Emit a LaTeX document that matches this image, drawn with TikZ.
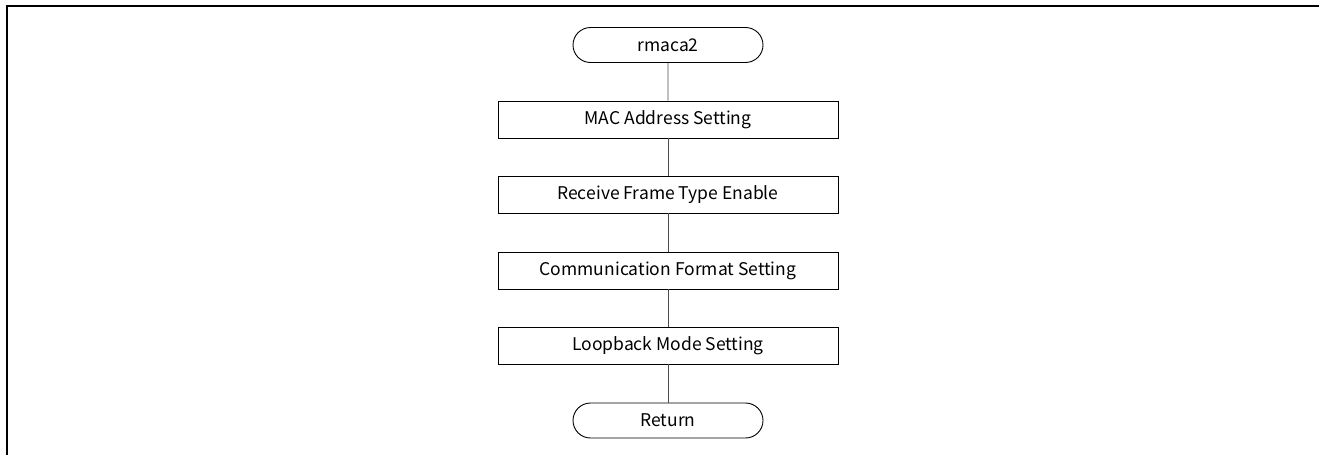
\documentclass[tikz,border=0pt]{standalone}
\usepackage{fontspec}
\setmainfont{Noto Sans CJK JP}
\usetikzlibrary{shapes.misc}
\begin{document}
\begin{tikzpicture}[x=1pt,y=-1pt,
  every node/.style={font=\fontsize{17.5}{20}\selectfont, inner sep=0pt},
  procbox/.style={draw=black, line width=0.9pt, minimum width=340pt, minimum height=37pt},
  termbox/.style={draw=black, line width=0.9pt, rounded rectangle, minimum width=190pt, minimum height=35pt},
  link/.style={draw=black!70, line width=0.9pt}]
\useasboundingbox (0,0) rectangle (1319,455);
\draw[line width=2.5pt] (7,455) -- (7,6.2) -- (1319,6.2);
\node[termbox] (start) at (668,45) {rmaca2};
\node[procbox] (mac) at (668,119.5) {MAC Address Setting};
\node[procbox] (recv) at (668,194.5) {Receive Frame Type Enable};
\node[procbox] (comm) at (668,270.5) {Communication Format Setting};
\node[procbox] (loop) at (668,345.5) {Loopback Mode Setting};
\node[termbox] (ret) at (668,420.5) {Return};
\draw[link] (start) -- (mac);
\draw[link] (mac) -- (recv);
\draw[link] (recv) -- (comm);
\draw[link] (comm) -- (loop);
\draw[link] (loop) -- (ret);
\end{tikzpicture}
\end{document}
